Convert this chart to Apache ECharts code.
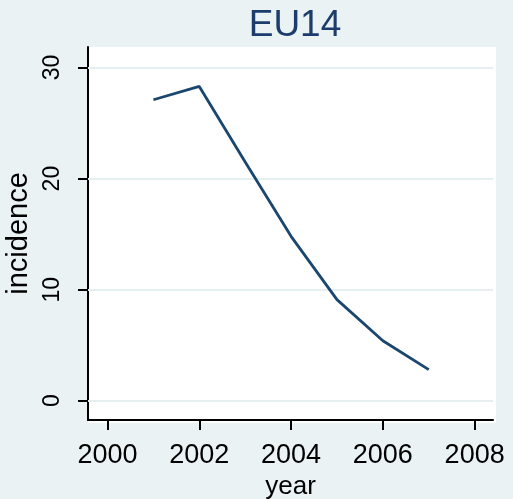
<!DOCTYPE html>
<html>
<head>
<meta charset="utf-8">
<script src="https://cdn.jsdelivr.net/npm/echarts@6/dist/echarts.min.js"></script>
<style>
  html, body { margin: 0; padding: 0; background: #EAF2F3; }
  #chart { width: 513px; height: 499px; }
</style>
</head>
<body>
<div id="chart"></div>
<script>
// Incidence by year, EU14
const years = [2001, 2002, 2003, 2004, 2005, 2006, 2007];
const incidence = [27.1, 28.3, 21.5, 14.8, 9.1, 5.4, 2.8];
const xTicks = [2000, 2002, 2004, 2006, 2008];
const yTicks = [0, 10, 20, 30];

const FONT = '"Liberation Sans", Arial, sans-serif';
const chart = echarts.init(document.getElementById('chart'), null, { renderer: 'canvas' });

chart.setOption({
  backgroundColor: '#EAF2F3',
  animation: false,
  title: {
    text: 'EU14',
    left: 290, top: 2,
    textAlign: 'center',
    textStyle: { color: '#1C3D6B', fontFamily: FONT, fontSize: 37, fontWeight: 'normal' }
  },
  graphic: [{
    // white plot region
    type: 'rect', z: -10, silent: true,
    shape: { x: 88, y: 47, width: 408, height: 376 },
    style: { fill: '#FFFFFF' }
  }],
  grid: { left: 88, top: 47, right: 20, bottom: 79, outerBoundsMode: 'none', containLabel: false },
  xAxis: {
    type: 'value',
    min: 1999.575, max: 2008.4,
    name: 'year',
    nameLocation: 'middle',
    nameGap: 53,
    nameTextStyle: { color: '#000', fontFamily: FONT, fontSize: 26 },
    axisLine: { show: true, onZero: false, lineStyle: { color: '#000', width: 2 } },
    axisTick: { show: true, length: 10, customValues: xTicks, lineStyle: { color: '#000', width: 2 } },
    axisLabel: { customValues: xTicks, margin: 22, color: '#000', fontFamily: FONT, fontSize: 27,
      formatter: v => String(v) },
    splitLine: { show: false }
  },
  yAxis: {
    type: 'value',
    min: -1.74, max: 31.85,
    name: 'incidence',
    nameLocation: 'middle',
    nameGap: 44,
    nameTextStyle: { color: '#000', fontFamily: FONT, fontSize: 29 },
    axisLine: { show: true, onZero: false, lineStyle: { color: '#000', width: 2 } },
    axisTick: { show: true, length: 10, customValues: yTicks, lineStyle: { color: '#000', width: 2 } },
    axisLabel: { customValues: yTicks, rotate: 90, margin: 24, color: '#000', fontFamily: FONT, fontSize: 23,
      formatter: v => String(v) },
    splitLine: { show: false }
  },
  series: [{
    type: 'line',
    data: years.map((y, i) => [y, incidence[i]]),
    showSymbol: false,
    symbol: 'none',
    lineStyle: { color: '#1A476F', width: 2.8 },
    z: 3,
    markLine: {
      silent: true,
      symbol: ['none', 'none'],
      label: { show: false },
      lineStyle: { color: '#E6EFF0', width: 2, type: 'solid' },
      z: 1,
      data: yTicks.map(v => ({ yAxis: v }))
    }
  }]
});
</script>
</body>
</html>
